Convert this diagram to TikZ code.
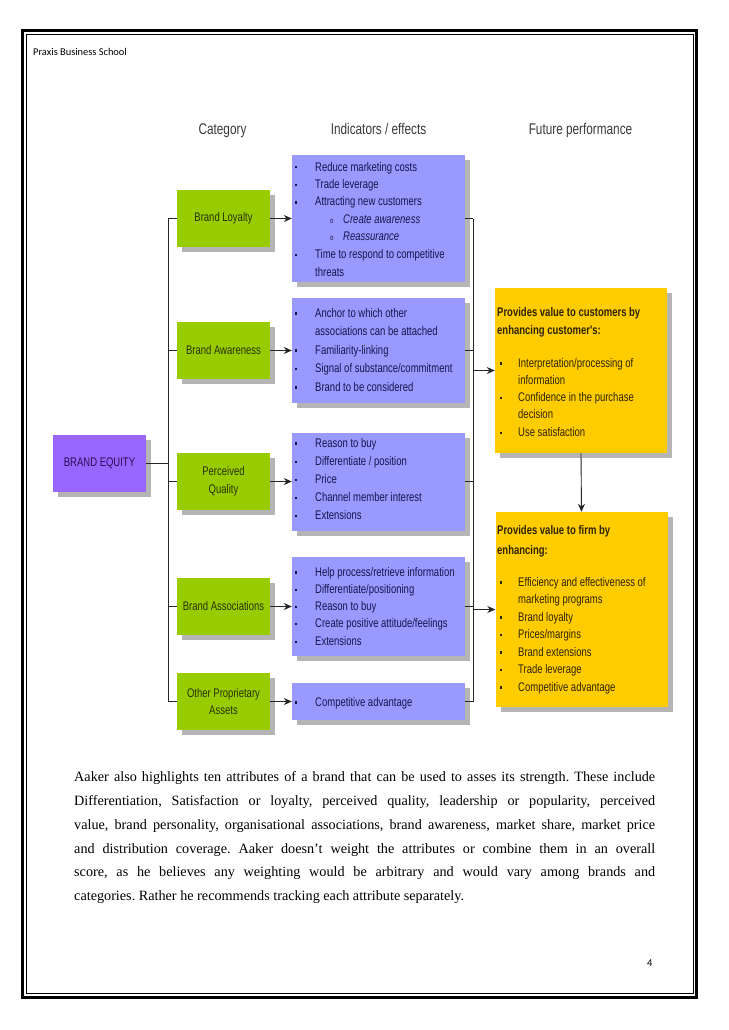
\documentclass[tikz,border=0pt]{standalone}
\usepackage{fontspec}
\setmainfont{Liberation Serif}
\newfontfamily\narfont[FakeStretch=0.76]{Liberation Sans}
\newfontfamily\calfont{Carlito}
\usetikzlibrary{arrows.meta,shadows}
\definecolor{grn}{HTML}{99CC00}
\definecolor{grntxt}{HTML}{263300}
\definecolor{blu}{HTML}{9999FF}
\definecolor{blutxt}{HTML}{16164F}
\definecolor{ylw}{HTML}{FFCC00}
\definecolor{ylwtxt}{HTML}{2E2400}
\definecolor{pur}{HTML}{9966FF}
\definecolor{purtxt}{HTML}{2A0E55}
\definecolor{shd}{HTML}{B5B5B5}
\definecolor{hdrc}{HTML}{3A3A3A}
\frenchspacing
\newcommand\dsz{\fontsize{12.5}{17.5}\selectfont}
\newcommand\bu{\makebox[20pt][l]{\rule[2.5pt]{2.2pt}{2.2pt}}}
\newcommand\ybu{\makebox[18pt][l]{\rule[2.5pt]{2.2pt}{2.2pt}}}
\newcommand\sbu{\hspace*{35pt}\makebox[13pt][l]{\fontsize{8}{8}\selectfont o}}
\newcommand\cont{\hspace*{20pt}}
\newcommand\ycont{\hspace*{18pt}}
\begin{document}
\begin{tikzpicture}[x=1pt,y=-1pt,
  shbox/.style={rectangle, inner sep=0pt, draw=none,
    general shadow={fill=shd, shadow xshift=5pt, shadow yshift=-5pt}},
  gbox/.style={shbox, fill=grn, text=grntxt, font=\narfont\dsz, align=center,
    minimum width=93pt, minimum height=57pt},
  pbox/.style={shbox, fill=pur, text=purtxt, font=\narfont\dsz,
    minimum width=93pt, minimum height=57pt},
  bbox/.style={shbox, fill=blu, minimum width=173pt},
  ybox/.style={shbox, fill=ylw, minimum width=172pt},
  lst/.style={inner sep=0pt, anchor=base west, font=\narfont\dsz},
  hdr/.style={inner sep=0pt, anchor=base, text=hdrc, font=\narfont\fontsize{15.5}{18}\selectfont},
  para/.style={inner sep=0pt, anchor=base west, font=\fontsize{14.2}{17}\selectfont},
  ln/.style={line width=0.9pt, draw=black!85},
  arr/.style={ln, -{Stealth[length=8pt,width=7pt]}}]
\useasboundingbox (0,0) rectangle (728,1030);
\fill[white] (0,0) rectangle (728,1030);
% page frame
\draw[line width=3.5pt] (22.5,30.5) rectangle (696.5,997.5);
\draw[line width=0.7pt] (26,34.5) rectangle (693,993.5);
\node[inner sep=0pt, anchor=base west, font=\calfont\fontsize{10.4}{12}\selectfont] (school) at (33,55.5) {Praxis Business School};
\node[inner sep=0pt, anchor=base west, font=\calfont\fontsize{10.5}{12}\selectfont] (pageno) at (647,966) {4};

% headers
\node[hdr] (h1) at (222.5,134.5) {Category};
\node[hdr] (h2) at (378.5,134.5) {Indicators / effects};
\node[hdr] (h3) at (580.5,134.5) {Future performance};

% brand equity and categories
\node[pbox] (be) at (99.5,463.5) {BRAND EQUITY};
\node[gbox] (bl) at (223.5,218.5) {Brand Loyalty};
\node[gbox] (ba) at (223.5,350.5) {Brand Awareness};
\node[gbox] (pq) at (223.5,481.5) {Perceived\\Quality};
\node[gbox] (bas) at (223.5,606.5) {Brand Associations};
\node[gbox] (opa) at (223.5,701.5) {Other Proprietary\\Assets};

% indicator boxes
\node[bbox, minimum height=127pt] (b1) at (378.5,218.5) {};
\node[bbox, minimum height=105pt] (b2) at (378.5,350.5) {};
\node[bbox, minimum height=98pt] (b3) at (378.5,481.5) {};
\node[bbox, minimum height=99pt] (b4) at (378.5,606.5) {};
\node[bbox, minimum height=37pt] (b5) at (378.5,701.5) {};

\node[lst, text=blutxt] (t1) at (295,171) {\parbox[t]{170pt}{\fontsize{12.5}{17.5}\selectfont
\bu Reduce marketing costs\\
\bu Trade leverage\\
\bu Attracting new customers\\
\sbu\textit{Create awareness}\\
\sbu\textit{Reassurance}\\
\bu Time to respond to competitive\\
\cont threats}};
\node[lst, text=blutxt] (t2) at (295,317) {\parbox[t]{170pt}{\fontsize{12.5}{18.5}\selectfont
\bu Anchor to which other\\
\cont associations can be attached\\
\bu Familiarity-linking\\
\bu Signal of substance/commitment\\
\bu Brand to be considered}};
\node[lst, text=blutxt] (t3) at (295,447) {\parbox[t]{170pt}{\fontsize{12.5}{18.2}\selectfont
\bu Reason to buy\\
\bu Differentiate / position\\
\bu Price\\
\bu Channel member interest\\
\bu Extensions}};
\node[lst, text=blutxt] (t4) at (295,576) {\parbox[t]{170pt}{\fontsize{12.5}{17.3}\selectfont
\bu Help process/retrieve information\\
\bu Differentiate/positioning\\
\bu Reason to buy\\
\bu Create positive attitude/feelings\\
\bu Extensions}};
\node[lst, text=blutxt] (t5) at (295,706) {\bu Competitive advantage};

% future performance boxes
\node[ybox, minimum height=165pt] (y1) at (581,370.5) {};
\node[ybox, minimum height=195pt] (y2) at (581.5,609.5) {};
\node[lst, text=ylwtxt] (yh1) at (497,316) {\parbox[t]{170pt}{\fontsize{12.5}{18}\selectfont\bfseries
Provides value to customers by\\ enhancing customer's:}};
\node[lst, text=ylwtxt] (yt1) at (500,367) {\parbox[t]{165pt}{\fontsize{12.5}{17.3}\selectfont
\ybu Interpretation/processing of\\
\ycont information\\
\ybu Confidence in the purchase\\
\ycont decision\\
\ybu Use satisfaction}};
\node[lst, text=ylwtxt] (yh2) at (497,534) {\parbox[t]{170pt}{\fontsize{12.5}{20}\selectfont\bfseries
Provides value to firm by\\ enhancing:}};
\node[lst, text=ylwtxt] (yt2) at (500,586) {\parbox[t]{165pt}{\fontsize{12.5}{17.5}\selectfont
\ybu Efficiency and effectiveness of\\
\ycont marketing programs\\
\ybu Brand loyalty\\
\ybu Prices/margins\\
\ybu Brand extensions\\
\ybu Trade leverage\\
\ybu Competitive advantage}};

% tree connectors (left)
\coordinate (lt) at (168,218.5);
\coordinate (lb) at (168,701.5);
\draw[ln] (lt) -- (lb);
\draw[ln] (be.east) -- (be.east -| lt);
\foreach \n in {bl,ba,pq,bas,opa}{\draw[ln] (\n.west -| lt) -- (\n.west);}
% category to indicator arrows
\draw[arr] (bl.east) -- (b1.west);
\draw[arr] (ba.east) -- (b2.west);
\draw[arr] (pq.east) -- (b3.west);
\draw[arr] (bas.east) -- (b4.west);
\draw[arr] (opa.east) -- (b5.west);
% right connectors
\coordinate (rt) at (473,218.5);
\coordinate (rb) at (473,701.5);
\draw[ln] (rt) -- (rb);
\foreach \n in {b1,b2,b3,b4,b5}{\draw[ln] (\n.east) -- (\n.east -| rt);}
\draw[arr] (y1.west -| rt) -- (y1.west);
\draw[arr] (y2.west -| rt) -- (y2.west);
\draw[arr] (y1.south) -- (y2.north);

% paragraph
\node[para] (p1) at (74,781) {\makebox[581pt][s]{Aaker also highlights ten attributes of a brand that can be used to asses its strength. These include}};
\node[para] (p2) at (74,805) {\makebox[581pt][s]{Differentiation, Satisfaction or loyalty, perceived quality, leadership or popularity, perceived}};
\node[para] (p3) at (74,829) {\makebox[581pt][s]{value, brand personality, organisational associations, brand awareness, market share, market price}};
\node[para] (p4) at (74,853) {\makebox[581pt][s]{and distribution coverage. Aaker doesn’t weight the attributes or combine them in an overall}};
\node[para] (p5) at (74,876) {\makebox[581pt][s]{score, as he believes any weighting would be arbitrary and would vary among brands and}};
\node[para] (p6) at (74,900) {categories. Rather he recommends tracking each attribute separately.};
\end{tikzpicture}
\end{document}
